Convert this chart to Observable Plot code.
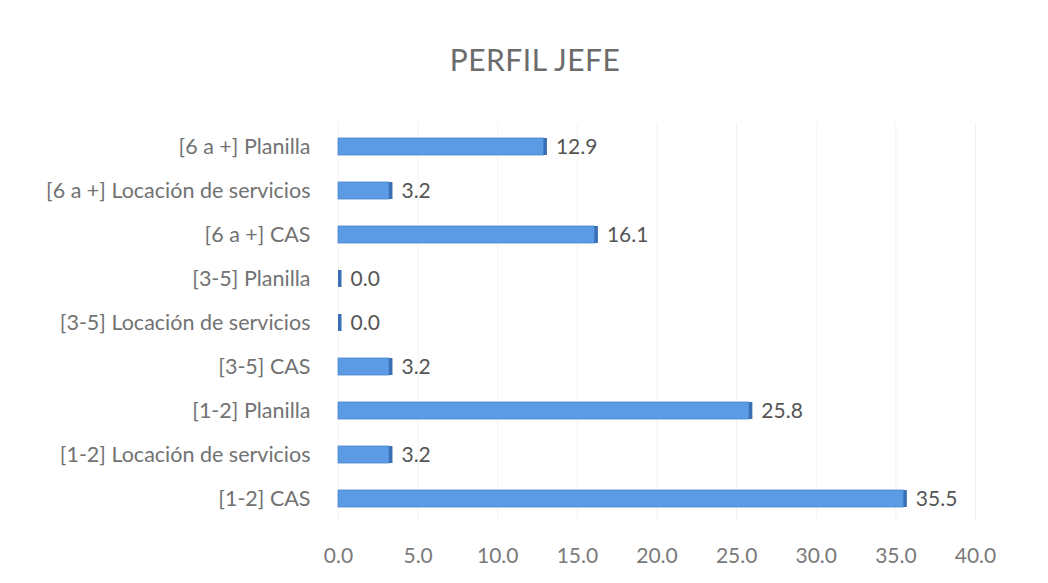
<!DOCTYPE html>
<html>
<head>
<meta charset="utf-8">
<script src="https://cdn.jsdelivr.net/npm/d3@7"></script>
<script src="https://cdn.jsdelivr.net/npm/@observablehq/plot@0.6"></script>
<style>
  html, body { margin: 0; padding: 0; background: #ffffff; }
  #wrap { position: relative; width: 1048px; height: 583px; }
  #title { position: absolute; top: 41px; left: 0; width: 1070px; text-align: center;
           font-family: Lato, "Open Sans", sans-serif; font-size: 30px; color: #6b6b6b; letter-spacing: 0.5px; line-height: 36px; }
  svg { font-family: Lato, "Open Sans", sans-serif; }
</style>
</head>
<body>
<div id="wrap">
  <div id="title">PERFIL JEFE</div>
  <div id="chart"></div>
</div>
<script>
const categories = [
  "[6 a +] Planilla",
  "[6 a +] Locación de servicios",
  "[6 a +] CAS",
  "[3-5] Planilla",
  "[3-5] Locación de servicios",
  "[3-5] CAS",
  "[1-2] Planilla",
  "[1-2] Locación de servicios",
  "[1-2] CAS"
];
const values = [12.9, 3.2, 16.1, 0.0, 0.0, 3.2, 25.8, 3.2, 35.5];
const xTicks = [0, 5, 10, 15, 20, 25, 30, 35, 40];

const data = categories.map((c, i) => ({category: c, value: values[i]}));

const chart = Plot.plot({
  width: 1048,
  height: 583,
  marginLeft: 338,
  marginRight: 73,
  marginTop: 123,
  marginBottom: 61,
  style: {fontSize: "21px", color: "#6b6b6b", background: "transparent"},
  x: {domain: [0, 40], ticks: xTicks, tickFormat: d3.format(".1f"), label: null},
  y: {domain: categories, label: null, paddingInner: 0.62, paddingOuter: 0.3},
  marks: [
    Plot.ruleX(xTicks, {stroke: "#f2f2f2", strokeWidth: 1}),
    Plot.axisX({ticks: xTicks, tickFormat: d3.format(".1f"), tickSize: 0, tickPadding: 26, fill: "#7a7a7a", fontSize: 21}),
    Plot.axisY({tickSize: 0, tickPadding: 28, fill: "#727272", fontSize: 21.5}),
    Plot.barX(data, {x1: 0, x2: "value", y: "category", fill: "#5b9be3", stroke: "#4a86cf", strokeWidth: 0.8}),
    Plot.barX(data, {x1: "value", x2: d => d.value + 0.22, y: "category", fill: "#3a6fb5"}),
    Plot.text(data, {x: "value", y: "category", text: d => d.value.toFixed(1), textAnchor: "start", dx: 12, fill: "#555555", fontSize: 21})
  ]
});
document.getElementById("chart").appendChild(chart);
</script>
</body>
</html>
